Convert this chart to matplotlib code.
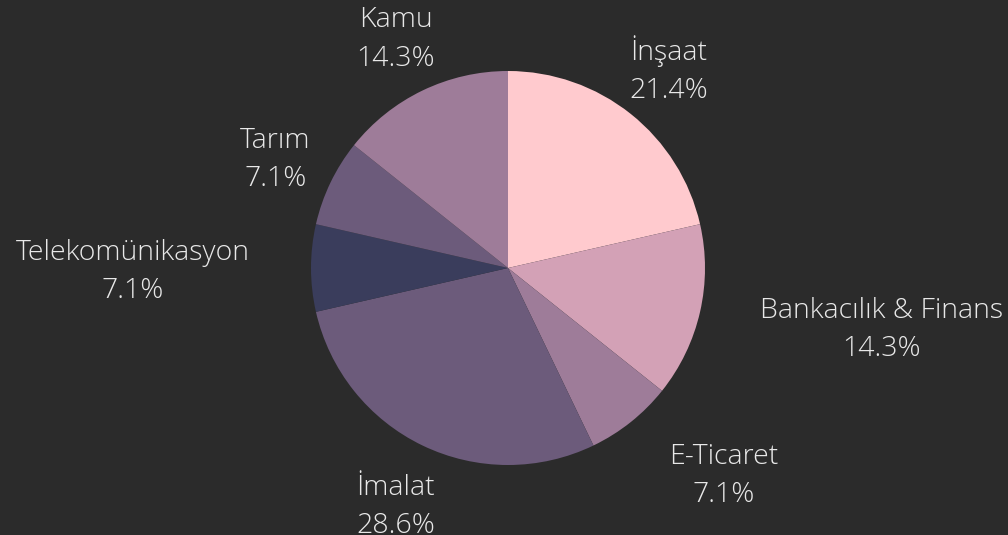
import matplotlib
matplotlib.use("Agg")
import matplotlib.pyplot as plt
import numpy as np

categories = ["İnşaat", "Bankacılık & Finans", "E-Ticaret", "İmalat",
              "Telekomünikasyon", "Tarım", "Kamu"]
counts = [3, 2, 1, 4, 1, 1, 2]
colors = ["#FFCACE", "#D3A1B6", "#9E7C99", "#6C5B7B", "#3A3D5C", "#6C5B7B", "#9E7C99"]
label_ha = ["center", "left", "left", "center", "right", "center", "center"]

BG = "#2B2B2B"
TXT = "#E8E8E8"
W, H = 1008, 535
fig = plt.figure(figsize=(W / 100, H / 100), dpi=100, facecolor=BG)
ax = fig.add_axes([0, 0, 1, 1])
ax.set_facecolor(BG)

cx, cy, R = 508, H - 268, 197
wedges, _ = ax.pie(counts, colors=colors, startangle=90, counterclock=False,
                   center=(cx, cy), radius=R, frame=True,
                   wedgeprops=dict(linewidth=0))
ax.set_xlim(0, W)
ax.set_ylim(0, H)
ax.set_aspect("equal")
ax.axis("off")

total = sum(counts)
for w, name, c, ha in zip(wedges, categories, counts, label_ha):
    ang = np.deg2rad((w.theta1 + w.theta2) / 2)
    lr = R * 1.31
    x = cx + lr * np.cos(ang)
    y = cy + lr * np.sin(ang) - 4 + 3 * min(0, np.sin(ang))
    ax.text(x, y, f"{name}\n{c / total * 100:.1f}%", ha=ha, va="center",
            multialignment="center", color=TXT, fontsize=20.5,
            family=["Open Sans", "DejaVu Sans"], fontweight="light",
            linespacing=1.5)

fig.savefig("out.png", dpi=100, facecolor=BG)
